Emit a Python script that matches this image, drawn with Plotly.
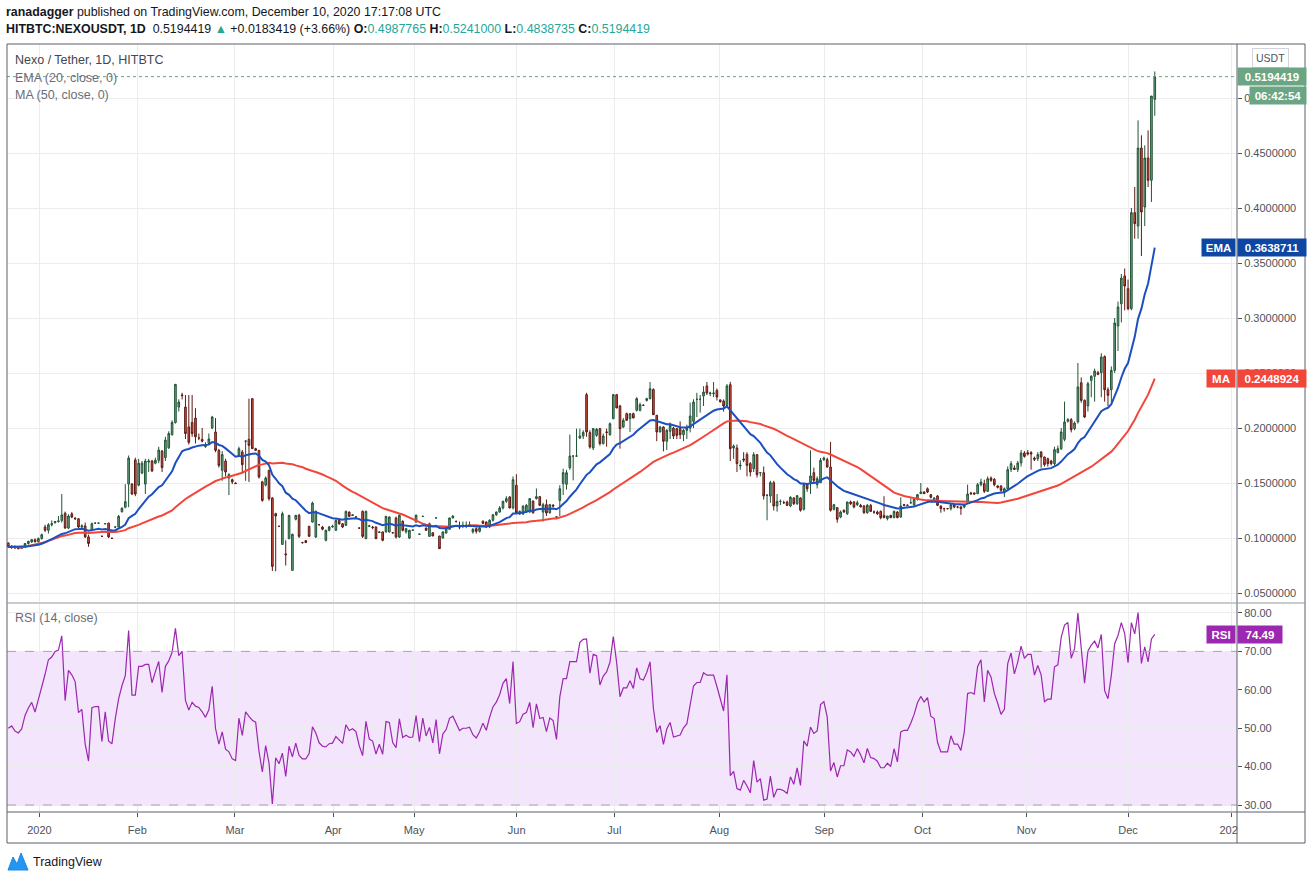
import pandas as pd
import plotly.graph_objects as go
from plotly.subplots import make_subplots

# NEXO / USDT daily candles on HitBTC, 23 Dec 2019 -> 10 Dec 2020
opens = [
    .0955, .0920, .0925, .0910, .0905, .0915, .0950, .0965, .0985, .0965,
    .0995, .1100, .1070, .1120, .1140, .1150, .1160, .1225, .1090, .1220,
    .1180, .1175, .1100, .1110, .1010, .1070, .1135, .1135, .1015, .1130,
    .1135, .0998, .1100, .1100, .1240, .1280, .1490, .1490, .1710, .1480,
    .1590, .1490, .1690, .1700, .1680, .1706, .1790, .1730, .1820, .1940,
    .2050, .2190, .2300, .2190, .2010, .2050, .2090, .1910, .1897, .1830,
    .1860, .2000, .1964, .1797, .1615, .1700, .1545, .1530, .1500, .1758,
    .1782, .1880, .1897, .2267, .1812, .1797, .1510, .1480, .1615, .1364,
    .1221, .1106, .0942, .0855, .0994, .0706, .1170, .1206, .0958, .0976,
    .1106, .1145, .1009, .1121, .1100, .0979, .1070, .1100, .1070, .1160,
    .1130, .1115, .1236, .1205, .1191, .1090, .1242, .0994, .1106, .1100,
    .1100, .1050, .1055, .1055, .1055, .1048, .1182, .1009, .1152, .1055,
    .1000, .1070, .1145, .1033, .1197, .1091, .1015, .1048, .1182, .1018,
    .1000, .1045, .1079, .1182, .1150, .1100, .1115, .1115, .1121, .1055,
    .1085, .1061, .1152, .1145, .1100, .1161, .1212, .1236, .1273, .1333,
    .1373, .1273, .1479, .1218, .1218, .1236, .1236, .1336, .1358, .1376,
    .1236, .1303, .1230, .1300, .1191, .1342, .1494, .1488, .1639, .1745,
    .1745, .1909, .1927, .2303, .1958, .1818, .1933, .1994, .1858, .1964,
    .1939, .2085, .2303, .2200, .2009, .2130, .2085, .2130, .2161, .2161,
    .2206, .2251, .2267, .2351, .2115, .1964, .2009, .1879, .1970, .2000,
    .1994, .1994, .1939, .1979, .2000, .2060, .2261, .2261, .2291, .2382,
    .2312, .2312, .2342, .2255, .2245, .2206, .2394, .1818, .1818, .1655,
    .1718, .1760, .1676, .1630, .1758, .1594, .1594, .1388, .1382, .1503,
    .1291, .1333, .1321, .1327, .1291, .1364, .1312, .1364, .1261, .1485,
    .1509, .1594, .1485, .1503, .1712, .1712, .1645, .1261, .1276, .1191,
    .1252, .1221, .1327, .1327, .1303, .1297, .1291, .1230, .1297, .1236,
    .1236, .1242, .1206, .1176, .1206, .1185, .1236, .1191, .1303, .1297,
    .1321, .1303, .1352, .1403, .1418, .1448, .1394, .1342, .1382, .1291,
    .1267, .1267, .1267, .1303, .1282, .1282, .1282, .1333, .1409, .1409,
    .1403, .1485, .1494, .1424, .1545, .1533, .1473, .1473, .1418, .1448,
    .1624, .1636, .1624, .1682, .1773, .1776, .1776, .1727, .1721, .1782,
    .1736, .1721, .1700, .1676, .1776, .1812, .1897, .2061, .2076, .1994,
    .2055, .2412, .2251, .2200, .2433, .2470, .2503, .2503, .2650, .2348,
    .2348, .2524, .2927, .3130, .3382, .3267, .3085, .3958, .3836, .4545,
    .4009, .4455, .4252, .4987765,
]
highs = [
    .0960, .0935, .0930, .0915, .0925, .0955, .0975, .0990, .0995, .1005,
    .1040, .1120, .1135, .1160, .1155, .1200, .1400, .1240, .1215, .1235,
    .1190, .1180, .1125, .1140, .1030, .1140, .1140, .1140, .1020, .1135,
    .1140, .1000, .1105, .1210, .1280, .1490, .1750, .1500, .1730, .1720,
    .1700, .1720, .1720, .1710, .1730, .1830, .1800, .1920, .1970, .2070,
    .2400, .2260, .2320, .2300, .2300, .2300, .2180, .1950, .2000, .1870,
    .1950, .2110, .2090, .1810, .1790, .1720, .1590, .1540, .1505, .1830,
    .1800, .1890, .2267, .2270, .1820, .1800, .1520, .1560, .1620, .1370,
    .1230, .1110, .1240, .0979, .1210, .1040, .1210, .1220, .0965, .0980,
    .1110, .1330, .1250, .1125, .1110, .1075, .1110, .1120, .1170, .1165,
    .1135, .1250, .1240, .1215, .1195, .1095, .1250, .1250, .1120, .1110,
    .1105, .1060, .1060, .1200, .1195, .1050, .1195, .1215, .1160, .1090,
    .1075, .1075, .1215, .1040, .1200, .1095, .1140, .1050, .1185, .1020,
    .1060, .1095, .1185, .1205, .1160, .1150, .1150, .1150, .1150, .1090,
    .1095, .1100, .1160, .1150, .1170, .1215, .1240, .1290, .1340, .1380,
    .1380, .1560, .1580, .1250, .1300, .1310, .1360, .1340, .1450, .1380,
    .1320, .1350, .1310, .1305, .1195, .1480, .1630, .1620, .1940, .1750,
    .1994, .1994, .1980, .2320, .1980, .2000, .2000, .2000, .1950, .1994,
    .2050, .2310, .2310, .2210, .2090, .2140, .2135, .2140, .2280, .2230,
    .2215, .2275, .2418, .2360, .2120, .2020, .2015, .1990, .2050, .2010,
    .2000, .2060, .1990, .2030, .2230, .2261, .2320, .2300, .2380, .2418,
    .2330, .2418, .2360, .2260, .2260, .2400, .2420, .1850, .1850, .1706,
    .1780, .1780, .1690, .1780, .1760, .1600, .1650, .1400, .1520, .1520,
    .1400, .1350, .1340, .1340, .1380, .1370, .1390, .1370, .1500, .1500,
    .1797, .1640, .1560, .1727, .1740, .1730, .1873, .1310, .1280, .1250,
    .1260, .1330, .1340, .1335, .1340, .1310, .1300, .1310, .1310, .1250,
    .1250, .1250, .1380, .1200, .1210, .1250, .1245, .1370, .1310, .1305,
    .1360, .1360, .1400, .1500, .1425, .1460, .1400, .1370, .1390, .1295,
    .1275, .1270, .1310, .1310, .1290, .1290, .1310, .1485, .1420, .1415,
    .1500, .1540, .1530, .1560, .1560, .1545, .1480, .1480, .1460, .1650,
    .1700, .1660, .1700, .1800, .1790, .1800, .1790, .1740, .1780, .1790,
    .1740, .1730, .1710, .1830, .1840, .2000, .2240, .2090, .2090, .2060,
    .2591, .2460, .2260, .2420, .2480, .2540, .2520, .2680, .2660, .2370,
    .2560, .3000, .3150, .3400, .3450, .3350, .4000, .4191, .4797, .4661,
    .4570, .4706, .5018, .5241000,
]
lows = [
    .0910, .0900, .0900, .0895, .0900, .0910, .0940, .0955, .0960, .0960,
    .0985, .1055, .1040, .1105, .1130, .1140, .1140, .1085, .1080, .1180,
    .1165, .1090, .1090, .1000, .0920, .1060, .1130, .1130, .1010, .1125,
    .1000, .0995, .1090, .1095, .1230, .1270, .1280, .1390, .1380, .1470,
    .1580, .1400, .1600, .1600, .1670, .1680, .1600, .1700, .1810, .1930,
    .2040, .2150, .2260, .1900, .1850, .1920, .1860, .1890, .1870, .1820,
    .1850, .1990, .1780, .1640, .1520, .1560, .1390, .1490, .1490, .1750,
    .1600, .1520, .1510, .1810, .1790, .1540, .1330, .1470, .1340, .0700,
    .0697, .1100, .0940, .0750, .0990, .0700, .1160, .1000, .0950, .0955,
    .1010, .1140, .1000, .1115, .1070, .0970, .1060, .1095, .1065, .1120,
    .1090, .1110, .1190, .1200, .1185, .1085, .1000, .0990, .1100, .1080,
    .0990, .1045, .0970, .1050, .1050, .1040, .0995, .1000, .1060, .1040,
    .0990, .1065, .1140, .1030, .1195, .1065, .1010, .1018, .1180, .0900,
    .0995, .1040, .1075, .1180, .1140, .1080, .1090, .1090, .1100, .1040,
    .1040, .1050, .1130, .1090, .1090, .1150, .1200, .1230, .1260, .1320,
    .1270, .1260, .1220, .1210, .1210, .1230, .1230, .1220, .1350, .1290,
    .1150, .1200, .1220, .1280, .1185, .1200, .1390, .1440, .1620, .1524,
    .1740, .1900, .1900, .1920, .1812, .1800, .1920, .1840, .1850, .1830,
    .1930, .2080, .2180, .1812, .2000, .2070, .1964, .2090, .2150, .2150,
    .2200, .2240, .2260, .2121, .1880, .1960, .1788, .1800, .1900, .1900,
    .1900, .1900, .1880, .1900, .1960, .2000, .2100, .2140, .2200, .2300,
    .2290, .2280, .2250, .2230, .2150, .2200, .1700, .1720, .1600, .1620,
    .1690, .1560, .1560, .1600, .1550, .1560, .1350, .1161, .1320, .1250,
    .1240, .1300, .1310, .1290, .1280, .1300, .1300, .1240, .1250, .1420,
    .1400, .1490, .1450, .1500, .1700, .1640, .1240, .1250, .1139, .1180,
    .1230, .1210, .1300, .1270, .1290, .1280, .1220, .1220, .1240, .1220,
    .1210, .1170, .1180, .1160, .1180, .1180, .1180, .1185, .1290, .1290,
    .1310, .1290, .1340, .1400, .1400, .1410, .1360, .1330, .1290, .1230,
    .1240, .1260, .1250, .1270, .1270, .1210, .1270, .1320, .1390, .1395,
    .1400, .1470, .1410, .1420, .1510, .1470, .1450, .1420, .1373, .1440,
    .1600, .1620, .1600, .1650, .1730, .1750, .1621, .1700, .1700, .1640,
    .1650, .1650, .1660, .1660, .1770, .1800, .1880, .2050, .1960, .1980,
    .2040, .2230, .2090, .2150, .2280, .2240, .2480, .2280, .2240, .2200,
    .2230, .2500, .2700, .2960, .3070, .3070, .3070, .3721, .3721, .3564,
    .3836, .4191, .4055, .4838735,
]
closes = [
    .0918, .0925, .0910, .0905, .0915, .0950, .0970, .0985, .0965, .0995,
    .1030, .1070, .1120, .1130, .1150, .1155, .1210, .1090, .1200, .1190,
    .1175, .1100, .1110, .1010, .0950, .1130, .1135, .1135, .1015, .1130,
    .1010, .0997, .1100, .1197, .1270, .1330, .1727, .1400, .1400, .1680,
    .1680, .1700, .1700, .1610, .1706, .1800, .1640, .1890, .1950, .2050,
    .2397, .2236, .2295, .1950, .1870, .1950, .1920, .1910, .1880, .1842,
    .1900, .2100, .1797, .1660, .1758, .1600, .1576, .1510, .1495, .1812,
    .1667, .1880, .1842, .1812, .1797, .1555, .1342, .1545, .1357, .0742,
    .1200, .1106, .1221, .0848, .1206, .1033, .1206, .1015, .0958, .0958,
    .1015, .1318, .1242, .1121, .1080, .1070, .1100, .1105, .1160, .1130,
    .1100, .1242, .1197, .1210, .1191, .1090, .1015, .1242, .1110, .1095,
    .0994, .1055, .0979, .1197, .1191, .1048, .1009, .1206, .1070, .1085,
    .1070, .1072, .1206, .1035, .1197, .1070, .1130, .1018, .1182, .0903,
    .1055, .1091, .1182, .1200, .1150, .1100, .1115, .1115, .1121, .1079,
    .1061, .1091, .1133, .1100, .1161, .1212, .1236, .1273, .1333, .1358,
    .1273, .1530, .1230, .1242, .1288, .1297, .1358, .1230, .1376, .1297,
    .1303, .1227, .1303, .1290, .1191, .1448, .1594, .1594, .1745, .1745,
    .1745, .1927, .1960, .1964, .1827, .1994, .1988, .1858, .1927, .1960,
    .2039, .2303, .2182, .1994, .2070, .2070, .2130, .2091, .2267, .2212,
    .2206, .2267, .2357, .2121, .1964, .2009, .1879, .1979, .2024, .1927,
    .1933, .1939, .1979, .2000, .2109, .2236, .2261, .2261, .2327, .2318,
    .2318, .2318, .2282, .2240, .2200, .2382, .1812, .1836, .1676, .1661,
    .1709, .1660, .1600, .1758, .1576, .1594, .1382, .1388, .1503, .1291,
    .1333, .1333, .1321, .1297, .1370, .1312, .1385, .1252, .1485, .1448,
    .1564, .1524, .1539, .1706, .1727, .1645, .1252, .1303, .1170, .1236,
    .1236, .1327, .1312, .1282, .1321, .1282, .1230, .1297, .1242, .1236,
    .1221, .1185, .1185, .1200, .1185, .1242, .1185, .1291, .1297, .1297,
    .1321, .1352, .1394, .1418, .1403, .1418, .1370, .1364, .1297, .1267,
    .1267, .1267, .1303, .1282, .1282, .1267, .1303, .1400, .1403, .1400,
    .1485, .1509, .1424, .1539, .1524, .1485, .1461, .1433, .1448, .1621,
    .1676, .1624, .1682, .1773, .1742, .1764, .1764, .1715, .1758, .1736,
    .1667, .1676, .1676, .1803, .1812, .1964, .2055, .2076, .1985, .2045,
    .2373, .2251, .2100, .2403, .2470, .2518, .2488, .2645, .2348, .2297,
    .2524, .2954, .3100, .3363, .3291, .3085, .3958, .3858, .4545, .3964,
    .4455, .4252, .5018, .5194419,
]

# first bar of each month (bar index) and its label on the time scale
month_bars = [9.3, 38.6, 67.8, 97.2, 121.4, 152.1, 181.3, 212.7, 244.1, 273.5, 304.6, 335.0, 366.0]
month_labels = ['2020', 'Feb', 'Mar', 'Apr', 'May', 'Jun', 'Jul', 'Aug', 'Sep', 'Oct', 'Nov', 'Dec', '2021']

price_ticks = [0.05, 0.10, 0.15, 0.20, 0.25, 0.30, 0.35, 0.40, 0.45, 0.50]
rsi_ticks = [30, 40, 50, 60, 70, 80]

# values shown in the scale labels
last_price = 0.5194419
ema_last = 0.3638711
ma_last = 0.2448924
rsi_last = 74.49
countdown = '06:42:54'

# indicators
s = pd.Series(closes)
ema20 = s.ewm(span=20, adjust=False).mean()
ma50 = s.rolling(50, min_periods=1).mean()

# Wilder RSI(14); no history before the first bar, so start from a neutral state
changes = s.diff().dropna().tolist()
avg_up = avg_dn = sum(abs(c) for c in changes[:14]) / 14
rsi = [50.0]
for c in changes:
    avg_up = (avg_up * 13 + max(c, 0)) / 14
    avg_dn = (avg_dn * 13 + max(-c, 0)) / 14
    rsi.append(100 * avg_up / (avg_up + avg_dn))

bars = list(range(len(closes)))

FONT = 'Liberation Sans'
UP, UP_LINE = '#6ba583', '#225437'
DOWN, DOWN_LINE = '#d75442', '#5b1a13'
EMA_C, MA_C, RSI_C = '#1c4fbf', '#f2463b', '#9c27b0'
GRID = '#ececec'
FRAME = '#5d606b'
TXT = '#4c525e'


# pixel -> paper helpers (plot area spans x 7..1237, y 44..812)
def px(x):
    return (x - 7) / 1230


def py(y):
    return (812 - y) / 768


fig = make_subplots(rows=2, cols=1, shared_xaxes=True, vertical_spacing=0)

fig.add_trace(go.Candlestick(
    x=bars, open=opens, high=highs, low=lows, close=closes,
    increasing=dict(fillcolor=UP, line=dict(color=UP_LINE, width=1)),
    decreasing=dict(fillcolor=DOWN, line=dict(color=DOWN_LINE, width=1)),
    whiskerwidth=0, hoverinfo='skip', showlegend=False,
), row=1, col=1)
fig.add_trace(go.Scatter(x=bars, y=ma50, mode='lines', line=dict(color=MA_C, width=2),
                         hoverinfo='skip', showlegend=False), row=1, col=1)
fig.add_trace(go.Scatter(x=bars, y=ema20, mode='lines', line=dict(color=EMA_C, width=2),
                         hoverinfo='skip', showlegend=False), row=1, col=1)
fig.add_trace(go.Scatter(x=bars, y=rsi, mode='lines', line=dict(color=RSI_C, width=1.2),
                         hoverinfo='skip', showlegend=False), row=2, col=1)

x_range = [-0.39, 367.6]
fig.update_xaxes(range=x_range, tickvals=month_bars, ticktext=month_labels,
                 showgrid=True, gridcolor=GRID, gridwidth=1, zeroline=False, showline=False,
                 rangeslider_visible=False, fixedrange=True)
fig.update_xaxes(showticklabels=False, ticks='', row=1, col=1)
fig.update_xaxes(ticks='outside', ticklen=4, tickcolor=TXT, ticklabelstandoff=4,
                 tickfont=dict(family=FONT, size=11, color=TXT), row=2, col=1)

fig.update_yaxes(side='right', showgrid=True, gridcolor=GRID, zeroline=False, showline=False,
                 ticks='outside', ticklen=4, tickcolor=TXT,
                 tickfont=dict(family=FONT, size=11, color=TXT), fixedrange=True)
fig.update_yaxes(range=[0.04182, 0.5491], tickvals=price_ticks, tickformat='.7f', row=1, col=1)
fig.update_yaxes(range=[28.18, 82.34], tickvals=rsi_ticks, tickformat='.2f', row=2, col=1)

fig.update_layout(
    width=1311, height=881,
    margin=dict(l=7, r=74, t=44, b=69),
    paper_bgcolor='white', plot_bgcolor='white',
    font=dict(family=FONT, size=11, color=TXT),
    hovermode=False, showlegend=False,
)
fig.layout.yaxis.domain = [py(602), 1]
fig.layout.yaxis2.domain = [0, py(604)]

shapes = [
    # RSI 30-70 band and its dashed bounds
    dict(type='rect', xref='paper', yref='y2', x0=0, x1=1, y0=30, y1=70,
         fillcolor='#f3e6fc', line=dict(width=0), layer='below'),
    dict(type='line', xref='paper', yref='y2', x0=0, x1=1, y0=70, y1=70,
         line=dict(color='#a7a3ab', width=1, dash='dash')),
    dict(type='line', xref='paper', yref='y2', x0=0, x1=1, y0=30, y1=30,
         line=dict(color='#a7a3ab', width=1, dash='dash')),
    # last price dotted line
    dict(type='line', xref='paper', yref='y', x0=0, x1=1, y0=last_price, y1=last_price,
         line=dict(color=UP, width=1, dash='dot')),
    # hide the part of the time labels running under the price scale
    dict(type='rect', xref='paper', yref='paper', x0=px(1238), x1=px(1305), y0=py(842), y1=py(813),
         fillcolor='white', line=dict(width=0), layer='above'),
    # frame
    dict(type='rect', xref='paper', yref='paper', x0=px(7), x1=px(1305), y0=py(843), y1=py(44),
         line=dict(color=FRAME, width=1)),
    dict(type='line', xref='paper', yref='paper', x0=px(1237), x1=px(1237), y0=py(843), y1=py(44),
         line=dict(color=FRAME, width=1)),
    dict(type='line', xref='paper', yref='paper', x0=px(7), x1=px(1305), y0=py(603), y1=py(603),
         line=dict(color='#9598a1', width=1)),
    dict(type='line', xref='paper', yref='paper', x0=px(7), x1=px(1305), y0=py(812), y1=py(812),
         line=dict(color=FRAME, width=1)),
    # TradingView logo mark
    dict(type='path', xref='paper', yref='paper',
         path=(f'M {px(8)},{py(870)} L {px(13)},{py(857)} L {px(17)},{py(864)} '
               f'L {px(21)},{py(853)} L {px(28)},{py(870)} Z'),
         fillcolor='#2196f3', line=dict(color='#1e88e5', width=1)),
]
fig.update_layout(shapes=shapes)

teal = '#26a69a'
header2 = (
    '<b>HITBTC:NEXOUSDT, 1D</b>  0.5194419 '
    f'<span style="color:{teal}">▲</span> +0.0183419 (+3.66%) '
    f'<b>O:</b><span style="color:{teal}">0.4987765</span> '
    f'<b>H:</b><span style="color:{teal}">0.5241000</span> '
    f'<b>L:</b><span style="color:{teal}">0.4838735</span> '
    f'<b>C:</b><span style="color:{teal}">0.5194419</span>'
)


def note(x, y, text, size=12, color='#131722', xanchor='left', **kw):
    fig.add_annotation(xref='paper', yref='paper', x=x, y=y, text=text, showarrow=False,
                       xanchor=xanchor, yanchor='middle',
                       font=dict(family=FONT, size=size, color=color), **kw)


note(px(4), py(12), '<b>ranadagger</b> published on TradingView.com, December 10, 2020 17:17:08 UTC', 12.4)
note(px(4), py(29), header2, 12.4)
note(px(13), py(60), 'Nexo / Tether, 1D, HITBTC', 12.5, '#434651')
note(px(13), py(78), 'EMA (20, close, 0)', 12.5, '#6a6d78')
note(px(13), py(95), 'MA (50, close, 0)', 12.5, '#6a6d78')
note(px(13), py(618), 'RSI (14, close)', 12.5, '#6a6d78')
note(px(31), py(862), 'TradingView', 12.5, '#131722')
note(px(1270), py(58), 'USDT', 10.5, TXT, xanchor='center',
     bgcolor='white', bordercolor='#d1d4dc', borderwidth=1, borderpad=3)


def scale_label(y, yref, text, bg, x_px, width, xanchor='left', yshift=0):
    fig.add_annotation(xref='paper', yref=yref, x=px(x_px), y=y, text=f'<b>{text}</b>',
                       showarrow=False, xanchor=xanchor, yanchor='middle', yshift=yshift,
                       width=width, height=15, align='center', bgcolor=bg, borderpad=1,
                       font=dict(family=FONT, size=11.5, color='white'))


scale_label(last_price, 'y', f'{last_price:.7f}', '#6ba583', 1237, 66)
scale_label(last_price, 'y', countdown, '#6ba583', 1249, 54, yshift=-19)
scale_label(ema_last, 'y', f'{ema_last:.7f}', '#0e46a3', 1237, 66)
scale_label(ema_last, 'y', 'EMA', '#0e46a3', 1236, 31, xanchor='right')
scale_label(ma_last, 'y', f'{ma_last:.7f}', MA_C, 1237, 66)
scale_label(ma_last, 'y', 'MA', MA_C, 1236, 26, xanchor='right')
scale_label(rsi_last, 'y2', f'{rsi_last:.2f}', RSI_C, 1237, 42)
scale_label(rsi_last, 'y2', 'RSI', RSI_C, 1236, 26, xanchor='right')

# the page's default body margin would shift the figure by 8 px
fig.write_html('out.html', config={'displayModeBar': False},
               post_script="document.body.style.margin='0';")
